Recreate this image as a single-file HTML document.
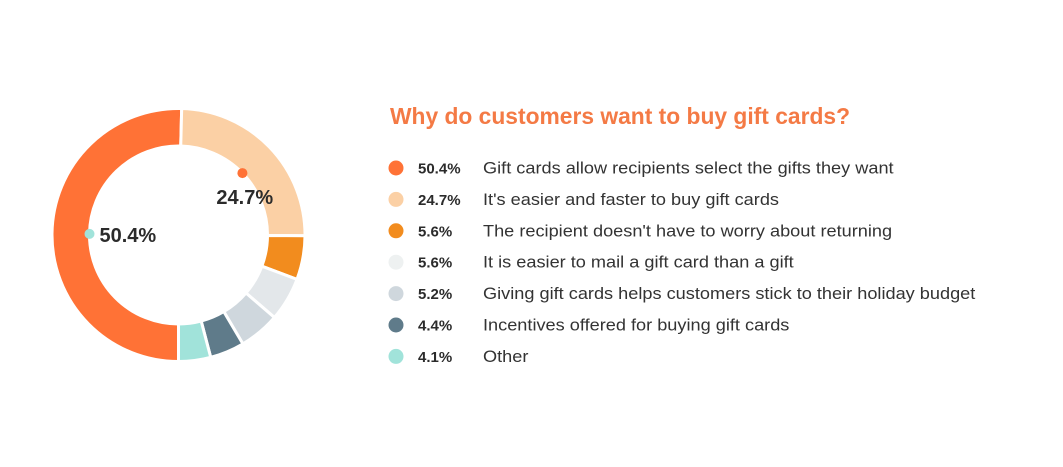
<!DOCTYPE html>
<html><head><meta charset="utf-8"><style>
html,body{margin:0;padding:0;background:#fff;width:1063px;height:467px;overflow:hidden}
svg{display:block}
text{font-family:"Liberation Sans",sans-serif}
</style></head><body>
<svg id="chart" width="1063" height="467" viewBox="0 0 1063 467">
<text x="390" y="124" font-size="23" font-weight="bold" fill="#f47a45" textLength="460" lengthAdjust="spacingAndGlyphs">Why do customers want to buy gift cards?</text>
<g id="slices"></g><g id="labels"></g><g id="legend"></g>
</svg>
<script>
const categories=["Gift cards allow recipients select the gifts they want","It's easier and faster to buy gift cards","The recipient doesn't have to worry about returning","It is easier to mail a gift card than a gift","Giving gift cards helps customers stick to their holiday budget","Incentives offered for buying gift cards","Other"];
const values=[50.4,24.7,5.6,5.6,5.2,4.4,4.1];
const colors=["#ff7236","#fbd0a5","#f28c1e","#e3e7ea","#cfd7dd","#5f7b8a","#a1e3da"];
const legendColors=["#ff7236","#fbd0a5","#f28c1e","#eef1f1","#cfd7dd","#5f7b8a","#a1e3da"];
const NS="http://www.w3.org/2000/svg";
const cx=178.5,cy=235,R=126.5,r=89;
const total=values.reduce((a,b)=>a+b,0);
function pt(ang,rad){return [cx+rad*Math.sin(ang),cy-rad*Math.cos(ang)];}
function angOf(v){return Math.PI+v/total*2*Math.PI;}
const sg=document.getElementById('slices'),lg=document.getElementById('labels'),leg=document.getElementById('legend');
let acc=0;
values.forEach((v,i)=>{
  const a0=angOf(acc),a1=angOf(acc+v);acc+=v;
  const [x0,y0]=pt(a0,R),[x1,y1]=pt(a1,R),[x2,y2]=pt(a1,r),[x3,y3]=pt(a0,r);
  const large=(a1-a0)>Math.PI?1:0;
  const p=document.createElementNS(NS,'path');
  p.setAttribute('d',`M${x0},${y0}A${R},${R} 0 ${large} 1 ${x1},${y1}L${x2},${y2}A${r},${r} 0 ${large} 0 ${x3},${y3}Z`);
  p.setAttribute('fill',colors[i]);p.setAttribute('stroke','#fff');p.setAttribute('stroke-width','3');
  
  
  sg.appendChild(p);
  if(i<2){
    const am=(a0+a1)/2;const [dx,dy]=pt(am,r);
    const c=document.createElementNS(NS,'circle');
    c.setAttribute('cx',dx);c.setAttribute('cy',dy);c.setAttribute('r',5);
    c.setAttribute('fill',i==0?"#a1e3da":"#ff7236");
    
    
    lg.appendChild(c);
    const t=document.createElementNS(NS,'text');
    t.setAttribute('x',i==0?dx+10:dx-26);t.setAttribute('y',i==0?dy+8:dy+31);
    t.setAttribute('font-size','20');t.setAttribute('font-weight','bold');t.setAttribute('fill','#2b2b2b');
    t.textContent=v.toFixed(1)+'%';
    
    
    lg.appendChild(t);
  }
  const y=168+i*31.4;
  const g=document.createElementNS(NS,'g');
  
  
  const c=document.createElementNS(NS,'circle');
  c.setAttribute('cx',396);c.setAttribute('cy',y);c.setAttribute('r',7.5);c.setAttribute('fill',legendColors[i]);
  
  
  g.appendChild(c);
  const tp=document.createElementNS(NS,'text');
  tp.setAttribute('x',418);tp.setAttribute('y',y+5.5);tp.setAttribute('font-size','15');tp.setAttribute('font-weight','bold');tp.setAttribute('fill','#2b2b2b');
  tp.textContent=v.toFixed(1)+'%';
  
  
  g.appendChild(tp);
  const tl=document.createElementNS(NS,'text');
  tl.setAttribute('x',483);tl.setAttribute('y',y+5.5);tl.setAttribute('font-size','16.5');tl.setAttribute('fill','#333');
  tl.textContent=categories[i];
  
  
  g.appendChild(tl);
  leg.appendChild(g);
  const w=tl.getComputedTextLength();
  if(w>0){tl.setAttribute('textLength',(w*1.1).toFixed(1));tl.setAttribute('lengthAdjust','spacingAndGlyphs');}
});
</script>
</body></html>
